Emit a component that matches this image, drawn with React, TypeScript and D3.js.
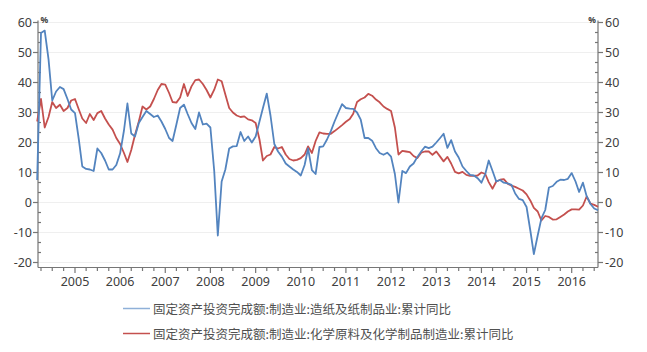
import React from "react";
import * as d3 from "d3";

// monthly data from 2004-03 to 2016-08
const START_YEAR = 2004;
const START_MONTH = 2; // March (0-based)

const paperSeries: number[] = [
  7.5, 56.5, 57.3, 47.7, 34, 37, 38.5, 37.8, 34.5, 31,
  29.8, 21, 12, 11.2, 11, 10.5, 18, 16.5, 14, 11, 11, 12.5,
  16.4, 24, 33, 23, 22, 26.5, 28.5, 30.5, 29.5, 28.5, 29, 27,
  24.5, 21.5, 20.5, 26, 31.5, 32.6, 29.5, 26.5, 24.5, 30, 26, 26.3,
  25, 10.5, -11, 7, 11, 18, 18.7, 18.8, 23.5, 20.5, 22, 20,
  22, 27, 31.5, 36.3, 29, 19.5, 17, 15.3, 13, 12, 11, 10.2,
  9, 12.5, 18, 10.8, 9.5, 18.5, 18.7, 21, 23.8, 27, 30, 32.8,
  31.5, 31.3, 31.2, 30, 27.6, 21.5, 21.5, 20.6, 18.1, 16.5, 15.9, 16.6,
  15.3, 9.5, 0, 10.5, 9.8, 12, 13, 15.2, 17, 18.6, 18.1, 18.6,
  20, 21.5, 22.9, 18.2, 20.8, 17, 15, 12, 10.5, 9.2, 9, 8.1,
  6.6, 9.5, 14, 10.5, 7, 7.5, 6.6, 6.4, 5.9, 3, 1.2, 0.8,
  -1.5, -9.5, -17.2, -11, -5.3, -2.5, 5, 5.5, 6.9, 7.6, 7.5, 7.9,
  9.8, 7, 3.5, 6.6, 2.1, -0.5, -2, -2.6,
];

const chemSeries: number[] = [
  27, 34.5, 25, 28.5, 33.5, 31.5, 32.6, 30.5, 31.5, 34,
  34.5, 31, 28, 26.5, 29.5, 27.5, 29.8, 30.5, 28, 26, 24.3, 21.5,
  19.5, 16.5, 13.5, 17.5, 22.5, 27, 32, 31, 32, 34.5, 37.5, 39.5,
  39.3, 36.5, 33.5, 33.3, 35, 39.5, 35.5, 38.7, 40.8, 41, 39.5, 37.5,
  35, 37.6, 41, 40.4, 36, 31.5, 30, 29, 28.5, 28.7, 27.7, 27.4,
  26.5, 21, 14, 15.5, 16, 18.5, 18, 18.5, 16, 14.5, 14, 14.2,
  14.8, 16, 18.7, 16.5, 20.5, 23.4, 23, 22.9, 22.9, 23.8, 24.8, 25.8,
  26.9, 27.8, 29.6, 33.5, 34.4, 35, 36.2, 35.6, 34.3, 33.4, 32, 31.2,
  30.5, 25, 16, 17.2, 17, 16.8, 15.5, 14.8, 16.6, 17, 17, 15.9,
  17, 15.3, 13.7, 15.2, 13, 10.2, 9.7, 10.2, 9.2, 8.9, 8.9, 9,
  10, 9.5, 6.8, 4.6, 7, 7.6, 7.8, 6.3, 5.6, 5.2, 4.6, 4,
  2.7, 0.6, -1.8, -3, -6, -4.5, -4.8, -5.7, -5.6, -4.8, -4, -3,
  -2.3, -2.3, -2.4, -1, 2, -0.4, -0.8, -1.4,
];

const seriesNames: string[] = [
  "固定资产投资完成额:制造业:造纸及纸制品业:累计同比",
  "固定资产投资完成额:制造业:化学原料及化学制品制造业:累计同比",
];
const seriesColors: string[] = ["#5384bf", "#c4504e"];
const legendColors: string[] = ["#8fb0d8", "#c4504e"];

const yTickValues: number[] = [-20, -10, 0, 10, 20, 30, 40, 50, 60];
const yearLabels: number[] = [2005, 2006, 2007, 2008, 2009, 2010, 2011, 2012, 2013, 2014, 2015, 2016];

const W = 647;
const H = 352;
const left = 38;
const right = 598;
const xAxisY = 267.5;

export default function App() {
  const x = d3
    .scaleTime()
    .domain([new Date(2005, 0, 1), new Date(2016, 0, 1)])
    .range([75, 571.7]);
  const y = d3.scaleLinear().domain([-20, 60]).range([262.5, 22.5]);

  const dates = paperSeries.map((_, i) => new Date(START_YEAR, START_MONTH + i, 1));
  const line = d3
    .line<number>()
    .x((_, i) => x(dates[i]))
    .y((v) => y(v))
    .curve(d3.curveLinear);

  const minorY: number[] = d3.range(0, 25).map((k) => -20 + (k * 10) / 3);
  const quarterTicks = d3.timeMonth
    .every(3)!
    .range(new Date(2004, 3, 1), new Date(2016, 8, 1))
    .filter((d) => x(d) >= left && x(d) <= right);

  const axisColor = "#767676";
  const textColor = "#404040";
  const numFont = "'Noto Sans', 'Open Sans', sans-serif";

  return (
    <svg
      width={W}
      height={H}
      style={{ position: "absolute", left: 0, top: 0, background: "#fff" }}
    >
      <rect x={0} y={0} width={W} height={H} fill="#fff" />
      {/* gridlines */}
      {yTickValues.map((v) => (
        <line key={"g" + v} x1={left} x2={right} y1={y(v)} y2={y(v)} stroke="#efefef" strokeWidth={1} />
      ))}

      {/* left axis */}
      <line x1={left} x2={left} y1={y(60) - 2} y2={xAxisY} stroke={axisColor} strokeWidth={1.2} />
      {minorY.map((v, k) =>
        k % 3 === 0 ? (
          <line key={"lt" + k} x1={left - 5} x2={left} y1={y(v)} y2={y(v)} stroke={axisColor} strokeWidth={1.2} />
        ) : (
          <line key={"lt" + k} x1={left} x2={left + 3} y1={y(v)} y2={y(v)} stroke={axisColor} strokeWidth={1.2} />
        )
      )}
      {yTickValues.map((v) => (
        <text
          key={"ll" + v}
          x={left - 6}
          y={y(v)}
          textAnchor="end"
          dominantBaseline="central"
          fontFamily={numFont}
          fontSize={12.5}
          fill={textColor}
        >
          {v}
        </text>
      ))}
      <text x={left + 2.5} y={23} fontFamily={numFont} fontSize={8.5} fontWeight="bold" fill={textColor}>
        %
      </text>

      {/* right axis */}
      <line x1={right} x2={right} y1={y(60) - 2} y2={xAxisY} stroke={axisColor} strokeWidth={1.2} />
      {minorY.map((v, k) =>
        k % 3 === 0 ? (
          <line key={"rt" + k} x1={right} x2={right + 5} y1={y(v)} y2={y(v)} stroke={axisColor} strokeWidth={1.2} />
        ) : (
          <line key={"rt" + k} x1={right - 3} x2={right} y1={y(v)} y2={y(v)} stroke={axisColor} strokeWidth={1.2} />
        )
      )}
      {yTickValues.map((v) => (
        <text
          key={"rl" + v}
          x={right + 7}
          y={y(v)}
          textAnchor="start"
          dominantBaseline="central"
          fontFamily={numFont}
          fontSize={12.5}
          fill={textColor}
        >
          {v}
        </text>
      ))}
      <text x={right - 2} y={23} textAnchor="end" fontFamily={numFont} fontSize={8.5} fontWeight="bold" fill={textColor}>
        %
      </text>

      {/* x axis */}
      <line x1={left} x2={right} y1={xAxisY} y2={xAxisY} stroke={axisColor} strokeWidth={1.2} />
      {quarterTicks.map((d, i) => {
        const major = d.getMonth() === 0;
        return (
          <line
            key={"xt" + i}
            x1={x(d)}
            x2={x(d)}
            y1={xAxisY}
            y2={xAxisY + (major ? 5.5 : 3.5)}
            stroke={axisColor}
            strokeWidth={1.2}
          />
        );
      })}
      {yearLabels.map((yr) => (
        <text
          key={"xl" + yr}
          x={x(new Date(yr, 0, 1))}
          y={286}
          textAnchor="middle"
          fontFamily={numFont}
          fontSize={12.5}
          fill={textColor}
        >
          {yr}
        </text>
      ))}

      {/* series */}
      <path d={line(chemSeries) || ""} fill="none" stroke={seriesColors[1]} strokeWidth={1.8} strokeLinejoin="round" />
      <path d={line(paperSeries) || ""} fill="none" stroke={seriesColors[0]} strokeWidth={1.8} strokeLinejoin="round" />

      {/* legend */}
      {seriesNames.map((name, i) => (
        <g key={"lg" + i} transform={`translate(123, ${308.5 + i * 25})`}>
          <line x1={0} x2={27} y1={0} y2={0} stroke={legendColors[i]} strokeWidth={1.5} />
          <text
            x={30}
            y={0}
            dominantBaseline="central"
            fontFamily="'Noto Sans CJK SC', sans-serif"
            fontSize={12.5}
            fill="#505050"
          >
            {name}
          </text>
        </g>
      ))}
    </svg>
  );
}
